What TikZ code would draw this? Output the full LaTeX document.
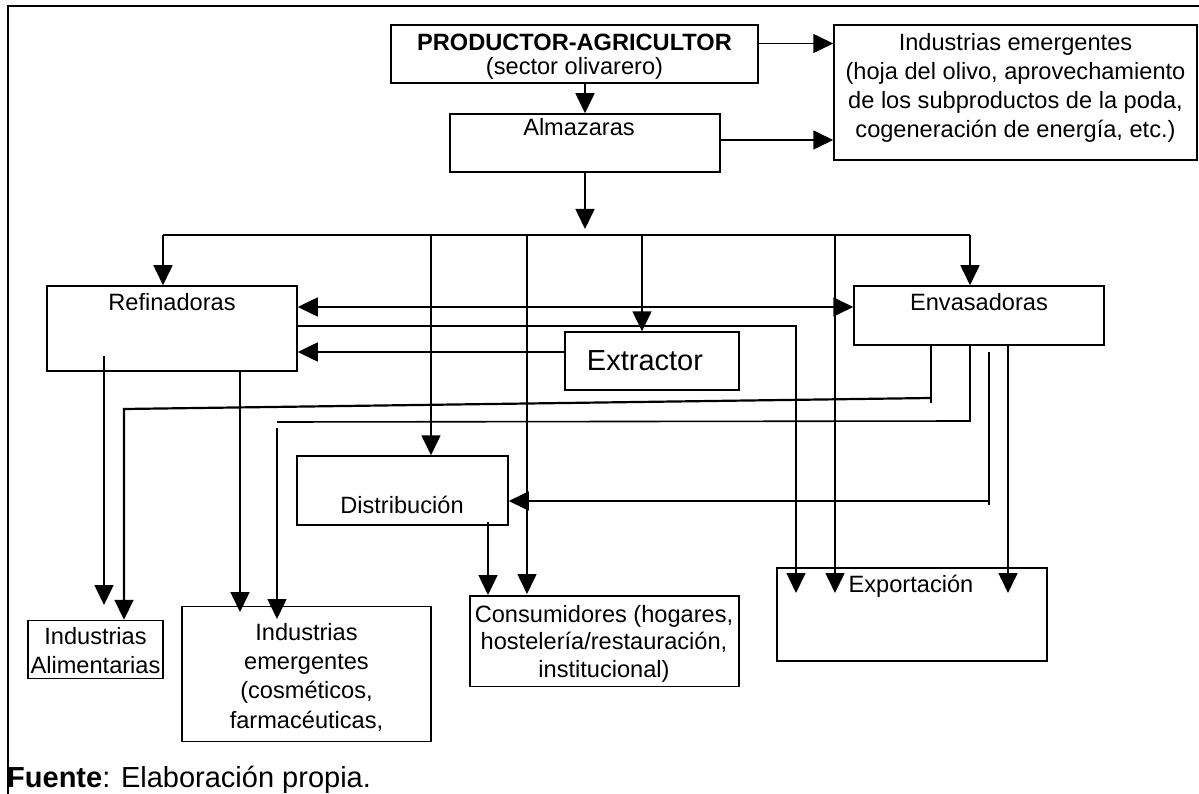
\documentclass[tikz,border=0pt]{standalone}
\usepackage{fontspec}
\setmainfont{Liberation Sans}
\usetikzlibrary{arrows.meta}
\begin{document}
\begin{tikzpicture}[x=1pt,y=-1pt,
  box/.style={draw, line width=1.5pt, inner sep=0pt, rectangle},
  txt/.style={inner sep=0pt, font=\fontsize{23.6}{29}\selectfont, align=center},
  ln/.style={line width=1.6pt},
  arr/.style={line width=1.6pt, -{Triangle[length=20pt,width=19pt]}},
  dbl/.style={line width=1.6pt, {Triangle[length=20pt,width=19pt]}-{Triangle[length=20pt,width=19pt]}},
]
\useasboundingbox (0,0) rectangle (1199,794);
% frame
\draw[line width=1.5pt] (8,794) -- (8,6) -- (1199,6);

% boxes
\node[box, minimum width=367pt, minimum height=58pt] (prod) at (574.5,54) {};
\node[txt, anchor=north, font=\fontsize{23.6}{24.5}\selectfont] (prodt) at (574.5,33.5) {\textbf{PRODUCTOR-AGRICULTOR}\\(sector olivarero)};
\node[box, minimum width=363pt, minimum height=135pt] (ind1) at (1015.5,92.5) {};
\node[txt, anchor=north] (ind1t) at (1015.5,33) {Industrias emergentes\\(hoja del olivo, aprovechamiento\\de los subproductos de la poda,\\cogeneración de energía, etc.)};
\node[box, minimum width=270pt, minimum height=58pt] (alm) at (585,143) {};
\node[txt, anchor=north] (almt) at (579,118.5) {Almazaras};
\node[box, minimum width=250pt, minimum height=85pt] (ref) at (172,328.5) {};
\node[txt, anchor=north] (reft) at (172,293.5) {Refinadoras};
\node[box, minimum width=250pt, minimum height=59pt] (env) at (979,315.5) {};
\node[txt, anchor=north] (envt) at (979,293.5) {Envasadoras};
\node[box, minimum width=174pt, minimum height=58pt] (ext) at (652,361) {};
\node[txt, anchor=north, font=\fontsize{29}{34}\selectfont] (extt) at (645,350) {Extractor};
\node[box, minimum width=211pt, minimum height=69pt] (dist) at (402.5,490.5) {};
\node[txt, anchor=north] (distt) at (402,495.5) {Distribución};
\node[box, minimum width=135pt, minimum height=58pt] (ialim) at (95.5,649.5) {};
\node[txt, anchor=north, font=\fontsize{23.6}{28.2}\selectfont] (ialimt) at (95.5,627.5) {Industrias\\Alimentarias};
\node[box, minimum width=249pt, minimum height=135pt] (iemer) at (306.5,674) {};
\node[txt, anchor=north, font=\fontsize{23.6}{29.3}\selectfont] (iemert) at (306.5,623) {Industrias\\emergentes\\(cosméticos,\\farmacéuticas,};
\node[box, minimum width=269pt, minimum height=90.5pt] (cons) at (604.5,641) {};
\node[txt, anchor=north, font=\fontsize{23.6}{27.5}\selectfont] (const) at (604,605) {Consumidores (hogares,\\hostelería/restauración,\\institucional)};
\node[box, minimum width=270pt, minimum height=93pt] (exp) at (912,614.5) {};
\node[txt, anchor=north] (expt) at (911,575) {Exportación};
\node[inner sep=0pt, anchor=base west, font=\fontsize{29}{34}\selectfont] (fuente) at (7,787) {\textbf{Fuente}: Elaboración propia.};

% connectors
\coordinate (busL) at (163,235);
\coordinate (busR) at (970,235);
\coordinate (bD) at (431,235);
\coordinate (bC) at (527,235);
\coordinate (bE) at (642,235);
\coordinate (bX) at (835,235);
\coordinate (almtip) at (585,229);

\draw[arr] (alm.north |- prod.south) -- (alm.north);
\draw[arr] (prod.east |- 0,43.5) -- (ind1.west |- 0,43.5);
\draw[arr] (alm.east |- 0,140) -- (ind1.west |- 0,140);
\draw[arr] (alm.south) -- (almtip);
\draw[ln] (busL) -- (busR);
\draw[arr] (busL) -- (busL |- ref.north);
\draw[arr] (bD) -- (bD |- dist.north);
\draw[arr] (bC) -- (bC |- 0,594);
\draw[arr] (bE) -- (bE |- ext.north);
\draw[arr] (bX) -- (bX |- 0,593);
\draw[arr] (busR) -- (busR |- env.north);

\draw[dbl] (ref.east |- 0,307) -- (env.west |- 0,307);
\draw[arr] (ref.east |- 0,326) -- (796,326) -- (796,593);
\draw[arr] (ext.west |- 0,352) -- (ref.east |- 0,352);

\draw[ln] (env.south -| 931,0) -- (931,403);
\draw[arr, line width=2.2pt] (931,398) -- (124,409) -- (ialim.north -| 124,0);
\draw[ln] (env.south -| 970,0) -- (970,421) -- (277,422);
\draw[arr] (277,428) -- (277,619);
\draw[ln] (989,352) -- (989,505);
\draw[arr] (989,501) -- (dist.east |- 0,501);
\draw[arr] (env.south -| 1008,0) -- (1008,593);
\draw[arr] (104,356) -- (104,605);
\draw[arr] (ref.south -| 240,0) -- (240,612);
\draw[arr] (488,522) -- (cons.north -| 488,0);
\end{tikzpicture}
\end{document}
